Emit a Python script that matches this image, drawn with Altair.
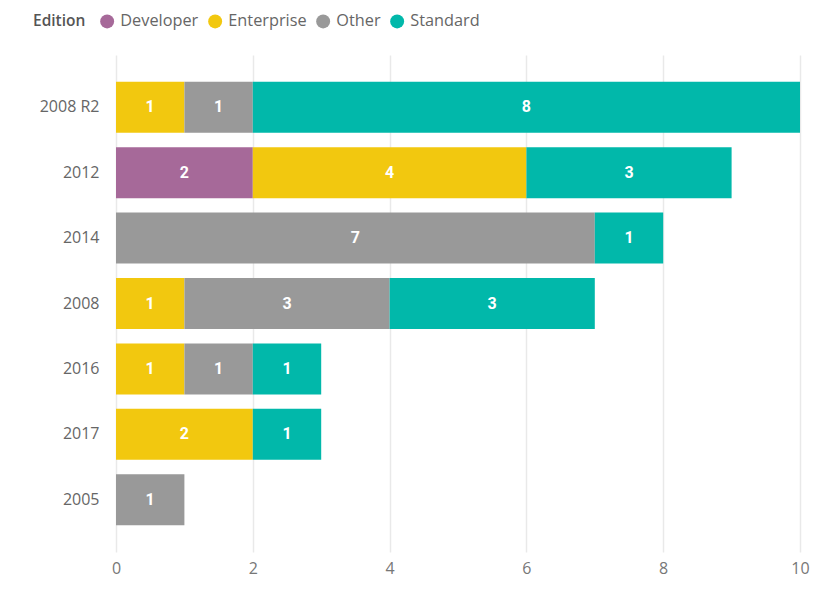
import altair as alt
import pandas as pd

versions = ["2008 R2", "2012", "2014", "2008", "2016", "2017", "2005"]
editions = ["Developer", "Enterprise", "Other", "Standard"]
colors = ["#A66999", "#F2C80F", "#999999", "#01B8AA"]
developer = [0, 2, 0, 0, 0, 0, 0]
enterprise = [1, 4, 0, 1, 1, 2, 0]
other = [1, 0, 7, 3, 1, 0, 1]
standard = [8, 3, 1, 3, 1, 1, 0]
x_ticks = [0, 2, 4, 6, 8, 10]

rows = []
for i, v in enumerate(versions):
    for j, (ed, vals) in enumerate(zip(editions, [developer, enterprise, other, standard])):
        if vals[i] > 0:
            rows.append({"Version": v, "Edition": ed, "Count": vals[i], "ord": j})
df = pd.DataFrame(rows)

base = alt.Chart(df).transform_stack(
    stack="Count", groupby=["Version"], as_=["x0", "x1"],
    sort=[alt.SortField("ord", order="ascending")]
).transform_calculate(mid="(datum.x0 + datum.x1) / 2")

yenc = alt.Y("Version:N", sort=versions, title=None,
             scale=alt.Scale(paddingInner=0.22, paddingOuter=0.41),
             axis=alt.Axis(domain=False, ticks=False, labelPadding=17, labelFontSize=16,
                           labelColor="#666666", labelFont="Open Sans"))

bars = base.mark_bar().encode(
    x=alt.X("x0:Q", title=None, scale=alt.Scale(domain=[0, 10], nice=False),
            axis=alt.Axis(values=x_ticks, format="d", domain=False, ticks=False,
                          labelFlush=False,
                          labelPadding=8, labelFontSize=16, labelColor="#777777",
                          labelFont="Open Sans", gridColor="#e9e9e9", gridWidth=1.5)),
    x2="x1:Q",
    y=yenc,
    color=alt.Color("Edition:N", scale=alt.Scale(domain=editions, range=colors),
                    legend=alt.Legend(orient="none", legendX=-83, legendY=-42,
                                      direction="horizontal", title="Edition",
                                      titleOrient="left", titleFont="Open Sans",
                                      titleFontSize=15.5, titleFontWeight=600,
                                      titleColor="#555555", titlePadding=13,
                                      labelFont="Open Sans", labelFontSize=16.3,
                                      labelColor="#666666", symbolType="circle",
                                      symbolSize=195, symbolStrokeWidth=0,
                                      symbolOpacity=1, labelOffset=5,
                                      columnPadding=8)),
)

labels = base.mark_text(color="white", fontWeight="bold", fontSize=16,
                        font="Roboto").encode(
    x=alt.X("mid:Q"),
    y=alt.Y("Version:N", sort=versions),
    text=alt.Text("Count:Q"),
)

chart = alt.layer(bars, labels).properties(
    width=684, height=497,
    autosize=alt.AutoSizeParams(type="none"),
    padding={"left": 108, "top": 47, "right": 13, "bottom": 28},
).configure_view(stroke=None)

chart.save("out.html", embed_options={"renderer": "svg", "actions": False})
